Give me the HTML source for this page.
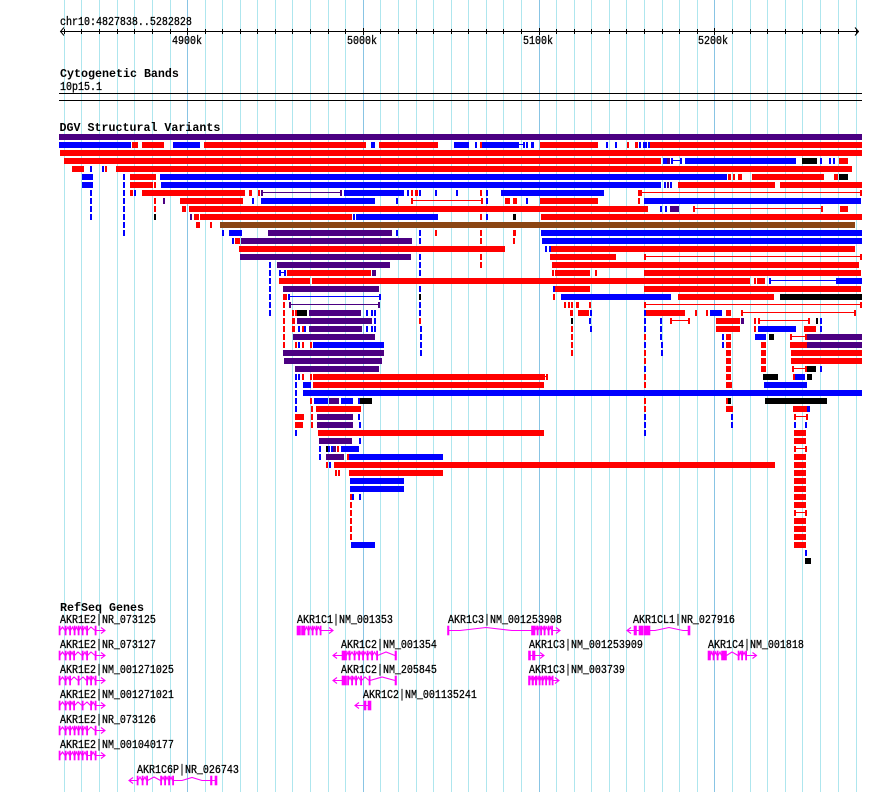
<!DOCTYPE html>
<html><head><meta charset="utf-8"><style>
html,body{margin:0;padding:0;background:#fff;}
svg{display:block}
.r{fill:#f00}.b{fill:#00f}.p{fill:#4b0082}.k{fill:#000}.n{fill:#8b4513}
.t{font-family:"Liberation Mono",monospace;font-size:10px;fill:#000;stroke:#000;stroke-width:0.25}
.h{font-family:"Liberation Mono",monospace;font-size:11.67px;font-weight:bold;fill:#000}
.g{fill:#f0f;stroke:#f0f;stroke-width:0.6}
.gs{fill:none;stroke:#f0f;stroke-width:1.1}
</style></head><body>
<svg width="890" height="792" viewBox="0 0 890 792" shape-rendering="crispEdges">
<rect width="890" height="792" fill="#fff"/>
<g fill="#aee6ee">
<rect x="64" y="0" width="1" height="792"/><rect x="81" y="0" width="1" height="792"/><rect x="99" y="0" width="1" height="792"/><rect x="117" y="0" width="1" height="792"/><rect x="134" y="0" width="1" height="792"/><rect x="152" y="0" width="1" height="792"/><rect x="170" y="0" width="1" height="792"/>
<rect x="205" y="0" width="1" height="792"/><rect x="222" y="0" width="1" height="792"/><rect x="240" y="0" width="1" height="792"/><rect x="257" y="0" width="1" height="792"/><rect x="275" y="0" width="1" height="792"/><rect x="292" y="0" width="1" height="792"/><rect x="310" y="0" width="1" height="792"/><rect x="328" y="0" width="1" height="792"/><rect x="345" y="0" width="1" height="792"/>
<rect x="380" y="0" width="1" height="792"/><rect x="398" y="0" width="1" height="792"/><rect x="416" y="0" width="1" height="792"/><rect x="433" y="0" width="1" height="792"/><rect x="451" y="0" width="1" height="792"/><rect x="468" y="0" width="1" height="792"/><rect x="486" y="0" width="1" height="792"/><rect x="503" y="0" width="1" height="792"/><rect x="521" y="0" width="1" height="792"/>
<rect x="556" y="0" width="1" height="792"/><rect x="574" y="0" width="1" height="792"/><rect x="591" y="0" width="1" height="792"/><rect x="609" y="0" width="1" height="792"/><rect x="626" y="0" width="1" height="792"/><rect x="644" y="0" width="1" height="792"/><rect x="662" y="0" width="1" height="792"/><rect x="679" y="0" width="1" height="792"/><rect x="697" y="0" width="1" height="792"/>
<rect x="732" y="0" width="1" height="792"/><rect x="750" y="0" width="1" height="792"/><rect x="767" y="0" width="1" height="792"/><rect x="785" y="0" width="1" height="792"/><rect x="802" y="0" width="1" height="792"/><rect x="820" y="0" width="1" height="792"/><rect x="838" y="0" width="1" height="792"/><rect x="856" y="0" width="1" height="792"/>
</g>
<g fill="#88c4e4">
<rect x="187" y="0" width="1" height="792"/><rect x="363" y="0" width="1" height="792"/><rect x="539" y="0" width="1" height="792"/><rect x="714" y="0" width="1" height="792"/>
</g>
<!-- ruler -->
<rect x="60" y="31" width="799" height="1" fill="#000"/>
<g fill="#000">
<rect x="64" y="29" width="1" height="5"/><rect x="81" y="29" width="1" height="5"/><rect x="99" y="29" width="1" height="5"/><rect x="117" y="29" width="1" height="5"/><rect x="134" y="29" width="1" height="5"/><rect x="152" y="29" width="1" height="5"/><rect x="170" y="29" width="1" height="5"/><rect x="187" y="28" width="1" height="7"/>
<rect x="205" y="29" width="1" height="5"/><rect x="222" y="29" width="1" height="5"/><rect x="240" y="29" width="1" height="5"/><rect x="257" y="29" width="1" height="5"/><rect x="275" y="29" width="1" height="5"/><rect x="292" y="29" width="1" height="5"/><rect x="310" y="29" width="1" height="5"/><rect x="328" y="29" width="1" height="5"/><rect x="345" y="29" width="1" height="5"/><rect x="363" y="28" width="1" height="7"/>
<rect x="380" y="29" width="1" height="5"/><rect x="398" y="29" width="1" height="5"/><rect x="416" y="29" width="1" height="5"/><rect x="433" y="29" width="1" height="5"/><rect x="451" y="29" width="1" height="5"/><rect x="468" y="29" width="1" height="5"/><rect x="486" y="29" width="1" height="5"/><rect x="503" y="29" width="1" height="5"/><rect x="521" y="29" width="1" height="5"/><rect x="539" y="28" width="1" height="7"/>
<rect x="556" y="29" width="1" height="5"/><rect x="574" y="29" width="1" height="5"/><rect x="591" y="29" width="1" height="5"/><rect x="609" y="29" width="1" height="5"/><rect x="626" y="29" width="1" height="5"/><rect x="644" y="29" width="1" height="5"/><rect x="662" y="29" width="1" height="5"/><rect x="679" y="29" width="1" height="5"/><rect x="697" y="29" width="1" height="5"/><rect x="714" y="28" width="1" height="7"/>
<rect x="732" y="29" width="1" height="5"/><rect x="750" y="29" width="1" height="5"/><rect x="767" y="29" width="1" height="5"/><rect x="785" y="29" width="1" height="5"/><rect x="802" y="29" width="1" height="5"/><rect x="820" y="29" width="1" height="5"/><rect x="838" y="29" width="1" height="5"/><rect x="856" y="29" width="1" height="5"/>
</g>
<polyline points="64,27.5 60.5,31.5 64,35.5" fill="none" stroke="#000" stroke-width="1" shape-rendering="auto"/>
<polyline points="855,27.5 858.5,31.5 855,35.5" fill="none" stroke="#000" stroke-width="1" shape-rendering="auto"/>
<text class="t" transform="translate(60,25) scale(1,1.2)">chr10:4827838..5282828</text>
<text class="t" text-anchor="middle" transform="translate(187,44) scale(1,1.2)">4900k</text>
<text class="t" text-anchor="middle" transform="translate(362,44) scale(1,1.2)">5000k</text>
<text class="t" text-anchor="middle" transform="translate(538,44) scale(1,1.2)">5100k</text>
<text class="t" text-anchor="middle" transform="translate(713,44) scale(1,1.2)">5200k</text>
<!-- cytobands -->
<text class="h" x="60" y="77">Cytogenetic Bands</text>
<text class="t" transform="translate(60,90) scale(1,1.2)">10p15.1</text>
<rect x="59" y="93" width="803" height="1" fill="#000"/>
<rect x="59" y="100" width="803" height="1" fill="#000"/>
<!-- DGV -->
<text class="h" x="59.5" y="131">DGV Structural Variants</text>
<g transform="translate(0,134)"><rect class="p" x="59" width="803" height="6"/></g>
<g transform="translate(0,142)"><rect class="b" x="59" width="72" height="6"/><rect class="r" x="132" width="6" height="6"/><rect class="r" x="142" width="22" height="6"/><rect class="b" x="173" width="27" height="6"/><rect class="r" x="204" width="162" height="6"/><rect class="b" x="371" width="4" height="6"/><rect class="r" x="379" width="59" height="6"/><rect class="b" x="454" width="15" height="6"/><rect class="b" x="475" width="2" height="6"/><rect class="r" x="480" width="2" height="6"/><rect class="b" x="482" width="37" height="6"/><rect class="b" x="519" y="2" width="4" height="1"/><rect class="b" x="523" width="2" height="6"/><rect class="b" x="526" width="2" height="6"/><rect class="b" x="531" width="3" height="6"/><rect class="r" x="540" width="58" height="6"/><rect class="b" x="606" width="2" height="6"/><rect class="b" x="615" width="2" height="6"/><rect class="r" x="627" width="2" height="6"/><rect class="r" x="635" width="3" height="6"/><rect class="b" x="639" width="2" height="6"/><rect class="b" x="643" width="4" height="6"/><rect class="b" x="648" width="2" height="6"/><rect class="r" x="650" width="212" height="6"/></g>
<g transform="translate(0,150)"><rect class="r" x="60" width="802" height="6"/></g>
<g transform="translate(0,158)"><rect class="r" x="64" width="597" height="6"/><rect class="b" x="663" width="4" height="6"/><rect class="p" x="667" width="3" height="6"/><rect class="b" x="671" width="2" height="6"/><rect class="b" x="673" y="2" width="7" height="1"/><rect class="b" x="680" width="2" height="6"/><rect class="b" x="685" width="111" height="6"/><rect class="k" x="802" width="15" height="6"/><rect class="b" x="820" width="2" height="6"/><rect class="b" x="829" width="2" height="6"/><rect class="b" x="833" width="2" height="6"/><rect class="r" x="839" width="9" height="6"/></g>
<g transform="translate(0,166)"><rect class="r" x="72" width="12" height="6"/><rect class="b" x="90" width="2" height="6"/><rect class="b" x="102" width="2" height="6"/><rect class="r" x="105" width="2" height="6"/><rect class="r" x="116" width="736" height="6"/></g>
<g transform="translate(0,174)"><rect class="b" x="82" width="11" height="6"/><rect class="b" x="123" width="2" height="6"/><rect class="r" x="130" width="26" height="6"/><rect class="b" x="160" width="567" height="6"/><rect class="r" x="728" width="3" height="6"/><rect class="r" x="733" width="2" height="6"/><rect class="r" x="738" width="4" height="6"/><rect class="r" x="752" width="72" height="6"/><rect class="r" x="834" width="4" height="6"/><rect class="k" x="839" width="9" height="6"/></g>
<g transform="translate(0,182)"><rect class="b" x="82" width="11" height="6"/><rect class="b" x="123" width="2" height="6"/><rect class="r" x="130" width="23" height="6"/><rect class="r" x="154" width="2" height="6"/><rect class="b" x="161" width="500" height="6"/><rect class="b" x="664" width="2" height="6"/><rect class="p" x="667" width="2" height="6"/><rect class="b" x="670" width="2" height="6"/><rect class="r" x="678" width="97" height="6"/><rect class="r" x="780" width="82" height="6"/></g>
<g transform="translate(0,190)"><rect class="b" x="90" width="2" height="6"/><rect class="b" x="123" width="2" height="6"/><rect class="r" x="130" width="3" height="6"/><rect class="b" x="134" width="2" height="6"/><rect class="r" x="142" width="103" height="6"/><rect class="r" x="249" width="3" height="6"/><rect class="r" x="258" width="2" height="6"/><rect class="p" x="261" width="2" height="6"/><rect class="p" x="263" y="2" width="77" height="1"/><rect class="p" x="340" width="2" height="6"/><rect class="b" x="344" width="60" height="6"/><rect class="b" x="407" width="2" height="6"/><rect class="r" x="411" width="2" height="6"/><rect class="r" x="415" width="3" height="6"/><rect class="b" x="419" width="2" height="6"/><rect class="b" x="435" width="2" height="6"/><rect class="b" x="456" width="2" height="6"/><rect class="r" x="480" width="2" height="6"/><rect class="b" x="486" width="2" height="6"/><rect class="b" x="501" width="103" height="6"/><rect class="r" x="638" width="4" height="6"/><rect class="r" x="642" y="2" width="218" height="1"/><rect class="r" x="860" width="2" height="6"/></g>
<g transform="translate(0,198)"><rect class="b" x="90" width="2" height="6"/><rect class="b" x="123" width="2" height="6"/><rect class="r" x="154" width="2" height="6"/><rect class="p" x="163" width="2" height="6"/><rect class="r" x="180" width="63" height="6"/><rect class="b" x="252" width="2" height="6"/><rect class="b" x="261" width="114" height="6"/><rect class="b" x="396" width="2" height="6"/><rect class="r" x="411" width="2" height="6"/><rect class="r" x="413" y="2" width="68" height="1"/><rect class="r" x="481" width="2" height="6"/><rect class="b" x="486" width="2" height="6"/><rect class="r" x="505" width="5" height="6"/><rect class="r" x="513" width="4" height="6"/><rect class="b" x="526" width="2" height="6"/><rect class="r" x="540" width="58" height="6"/><rect class="r" x="638" width="2" height="6"/><rect class="b" x="644" width="217" height="6"/></g>
<g transform="translate(0,206)"><rect class="b" x="90" width="2" height="6"/><rect class="b" x="123" width="2" height="6"/><rect class="r" x="154" width="2" height="6"/><rect class="r" x="182" width="4" height="6"/><rect class="r" x="189" width="459" height="6"/><rect class="b" x="660" width="2" height="6"/><rect class="b" x="665" width="2" height="6"/><rect class="p" x="670" width="9" height="6"/><rect class="r" x="693" width="2" height="6"/><rect class="r" x="695" y="2" width="126" height="1"/><rect class="r" x="821" width="2" height="6"/><rect class="r" x="840" width="8" height="6"/></g>
<g transform="translate(0,214)"><rect class="b" x="90" width="2" height="6"/><rect class="b" x="123" width="2" height="6"/><rect class="k" x="154" width="2" height="6"/><rect class="p" x="190" width="2" height="6"/><rect class="r" x="194" width="5" height="6"/><rect class="r" x="200" width="152" height="6"/><rect class="b" x="353" width="2" height="6"/><rect class="b" x="356" width="82" height="6"/><rect class="r" x="480" width="2" height="6"/><rect class="b" x="486" width="2" height="6"/><rect class="k" x="513" width="3" height="6"/><rect class="r" x="541" width="321" height="6"/></g>
<g transform="translate(0,222)"><rect class="b" x="123" width="2" height="6"/><rect class="r" x="196" width="4" height="6"/><rect class="r" x="210" width="2" height="6"/><rect class="n" x="220" width="635" height="6"/></g>
<g transform="translate(0,230)"><rect class="b" x="123" width="2" height="6"/><rect class="b" x="222" width="2" height="6"/><rect class="b" x="229" width="13" height="6"/><rect class="p" x="268" width="124" height="6"/><rect class="b" x="396" width="2" height="6"/><rect class="b" x="419" width="2" height="6"/><rect class="r" x="435" width="2" height="6"/><rect class="r" x="480" width="2" height="6"/><rect class="r" x="513" width="3" height="6"/><rect class="b" x="541" width="321" height="6"/></g>
<g transform="translate(0,238)"><rect class="b" x="232" width="2" height="6"/><rect class="r" x="235" width="5" height="6"/><rect class="p" x="241" width="171" height="6"/><rect class="b" x="419" width="2" height="6"/><rect class="r" x="480" width="2" height="6"/><rect class="r" x="513" width="2" height="6"/><rect class="b" x="542" width="320" height="6"/></g>
<g transform="translate(0,246)"><rect class="r" x="239" width="266" height="6"/><rect class="b" x="545" width="2" height="6"/><rect class="b" x="549" width="2" height="6"/><rect class="r" x="551" width="304" height="6"/></g>
<g transform="translate(0,254)"><rect class="p" x="240" width="171" height="6"/><rect class="b" x="419" width="2" height="6"/><rect class="r" x="480" width="2" height="6"/><rect class="r" x="550" width="66" height="6"/><rect class="r" x="644" width="2" height="6"/><rect class="r" x="646" y="2" width="214" height="1"/><rect class="r" x="860" width="2" height="6"/></g>
<g transform="translate(0,262)"><rect class="b" x="269" width="2" height="6"/><rect class="p" x="277" width="113" height="6"/><rect class="b" x="419" width="2" height="6"/><rect class="r" x="480" width="2" height="6"/><rect class="r" x="552" width="307" height="6"/></g>
<g transform="translate(0,270)"><rect class="b" x="269" width="2" height="6"/><rect class="b" x="279" width="2" height="6"/><rect class="b" x="281" y="2" width="3" height="1"/><rect class="b" x="284" width="2" height="6"/><rect class="r" x="287" width="84" height="6"/><rect class="p" x="372" width="4" height="6"/><rect class="b" x="419" width="2" height="6"/><rect class="r" x="552" width="2" height="6"/><rect class="r" x="555" width="35" height="6"/><rect class="r" x="595" width="2" height="6"/><rect class="r" x="644" width="217" height="6"/></g>
<g transform="translate(0,278)"><rect class="b" x="269" width="2" height="6"/><rect class="r" x="279" width="31" height="6"/><rect class="r" x="312" width="438" height="6"/><rect class="r" x="754" width="2" height="6"/><rect class="r" x="757" width="8" height="6"/><rect class="b" x="769" width="2" height="6"/><rect class="b" x="771" y="2" width="65" height="1"/><rect class="b" x="836" width="26" height="6"/></g>
<g transform="translate(0,286)"><rect class="b" x="269" width="2" height="6"/><rect class="p" x="283" width="96" height="6"/><rect class="b" x="419" width="2" height="6"/><rect class="b" x="553" width="2" height="6"/><rect class="r" x="555" width="35" height="6"/><rect class="r" x="644" width="217" height="6"/></g>
<g transform="translate(0,294)"><rect class="b" x="269" width="2" height="6"/><rect class="r" x="283" width="4" height="6"/><rect class="b" x="288" width="2" height="6"/><rect class="b" x="290" y="2" width="89" height="1"/><rect class="b" x="379" width="2" height="6"/><rect class="k" x="419" width="2" height="6"/><rect class="r" x="553" width="2" height="6"/><rect class="b" x="561" width="110" height="6"/><rect class="r" x="678" width="96" height="6"/><rect class="k" x="780" width="82" height="6"/></g>
<g transform="translate(0,302)"><rect class="b" x="269" width="2" height="6"/><rect class="r" x="283" width="2" height="6"/><rect class="p" x="289" width="2" height="6"/><rect class="p" x="291" y="2" width="87" height="1"/><rect class="p" x="378" width="2" height="6"/><rect class="b" x="419" width="2" height="6"/><rect class="r" x="564" width="2" height="6"/><rect class="r" x="568" width="2" height="6"/><rect class="r" x="571" width="2" height="6"/><rect class="r" x="576" width="3" height="6"/><rect class="r" x="589" width="2" height="6"/><rect class="r" x="644" width="2" height="6"/><rect class="r" x="646" y="2" width="214" height="1"/><rect class="r" x="860" width="2" height="6"/></g>
<g transform="translate(0,310)"><rect class="b" x="269" width="2" height="6"/><rect class="r" x="283" width="2" height="6"/><rect class="r" x="292" width="2" height="6"/><rect class="r" x="295" width="2" height="6"/><rect class="k" x="297" width="10" height="6"/><rect class="p" x="309" width="52" height="6"/><rect class="b" x="366" width="2" height="6"/><rect class="b" x="371" width="2" height="6"/><rect class="b" x="374" width="2" height="6"/><rect class="b" x="419" width="2" height="6"/><rect class="r" x="570" width="3" height="6"/><rect class="r" x="578" width="11" height="6"/><rect class="b" x="590" width="2" height="6"/><rect class="b" x="644" width="2" height="6"/><rect class="r" x="646" width="39" height="6"/><rect class="r" x="695" width="2" height="6"/><rect class="r" x="706" width="2" height="6"/><rect class="b" x="710" width="12" height="6"/><rect class="r" x="726" width="5" height="6"/><rect class="r" x="741" width="2" height="6"/><rect class="r" x="743" y="2" width="111" height="1"/><rect class="r" x="854" width="2" height="6"/></g>
<g transform="translate(0,318)"><rect class="r" x="283" width="2" height="6"/><rect class="r" x="292" width="3" height="6"/><rect class="p" x="297" width="75" height="6"/><rect class="b" x="374" width="2" height="6"/><rect class="r" x="419" width="2" height="6"/><rect class="k" x="571" width="2" height="6"/><rect class="b" x="589" width="2" height="6"/><rect class="b" x="644" width="2" height="6"/><rect class="b" x="660" width="2" height="6"/><rect class="r" x="670" width="2" height="6"/><rect class="r" x="672" y="2" width="16" height="1"/><rect class="r" x="688" width="2" height="6"/><rect class="r" x="716" width="24" height="6"/><rect class="p" x="741" width="3" height="6"/><rect class="r" x="754" width="2" height="6"/><rect class="r" x="758" width="2" height="6"/><rect class="r" x="760" y="2" width="48" height="1"/><rect class="r" x="808" width="2" height="6"/><rect class="k" x="816" width="2" height="6"/><rect class="b" x="820" width="2" height="6"/></g>
<g transform="translate(0,326)"><rect class="r" x="283" width="2" height="6"/><rect class="r" x="292" width="3" height="6"/><rect class="b" x="298" width="2" height="6"/><rect class="r" x="302" width="2" height="6"/><rect class="b" x="304" width="2" height="6"/><rect class="p" x="309" width="53" height="6"/><rect class="b" x="366" width="2" height="6"/><rect class="b" x="371" width="2" height="6"/><rect class="b" x="374" width="2" height="6"/><rect class="b" x="420" width="2" height="6"/><rect class="r" x="571" width="2" height="6"/><rect class="b" x="590" width="2" height="6"/><rect class="b" x="644" width="2" height="6"/><rect class="b" x="660" width="2" height="6"/><rect class="r" x="716" width="24" height="6"/><rect class="r" x="754" width="2" height="6"/><rect class="b" x="758" width="38" height="6"/><rect class="r" x="804" width="12" height="6"/><rect class="b" x="820" width="2" height="6"/></g>
<g transform="translate(0,334)"><rect class="r" x="283" width="2" height="6"/><rect class="p" x="293" width="82" height="6"/><rect class="b" x="420" width="2" height="6"/><rect class="r" x="571" width="2" height="6"/><rect class="r" x="644" width="2" height="6"/><rect class="b" x="660" width="2" height="6"/><rect class="b" x="722" width="2" height="6"/><rect class="r" x="726" width="5" height="6"/><rect class="b" x="755" width="11" height="6"/><rect class="k" x="769" width="5" height="6"/><rect class="r" x="790" width="2" height="6"/><rect class="r" x="792" y="2" width="13" height="1"/><rect class="r" x="805" width="2" height="6"/><rect class="p" x="807" width="55" height="6"/></g>
<g transform="translate(0,342)"><rect class="r" x="283" width="2" height="6"/><rect class="r" x="295" width="2" height="6"/><rect class="b" x="298" width="2" height="6"/><rect class="r" x="302" width="2" height="6"/><rect class="r" x="310" width="2" height="6"/><rect class="b" x="313" width="71" height="6"/><rect class="b" x="420" width="2" height="6"/><rect class="r" x="571" width="2" height="6"/><rect class="b" x="644" width="2" height="6"/><rect class="b" x="661" width="2" height="6"/><rect class="b" x="722" width="2" height="6"/><rect class="r" x="726" width="5" height="6"/><rect class="r" x="761" width="5" height="6"/><rect class="r" x="790" width="17" height="6"/><rect class="p" x="807" width="55" height="6"/></g>
<g transform="translate(0,350)"><rect class="p" x="283" width="101" height="6"/><rect class="b" x="420" width="2" height="6"/><rect class="r" x="571" width="2" height="6"/><rect class="r" x="644" width="2" height="6"/><rect class="b" x="661" width="2" height="6"/><rect class="r" x="726" width="5" height="6"/><rect class="r" x="761" width="5" height="6"/><rect class="r" x="791" width="71" height="6"/></g>
<g transform="translate(0,358)"><rect class="p" x="284" width="98" height="6"/><rect class="r" x="644" width="2" height="6"/><rect class="r" x="726" width="5" height="6"/><rect class="r" x="761" width="5" height="6"/><rect class="r" x="791" width="71" height="6"/></g>
<g transform="translate(0,366)"><rect class="p" x="295" width="84" height="6"/><rect class="b" x="644" width="2" height="6"/><rect class="r" x="726" width="5" height="6"/><rect class="r" x="761" width="5" height="6"/><rect class="r" x="792" width="2" height="6"/><rect class="r" x="794" y="2" width="11" height="1"/><rect class="r" x="805" width="2" height="6"/><rect class="k" x="807" width="9" height="6"/><rect class="b" x="820" width="2" height="6"/></g>
<g transform="translate(0,374)"><rect class="b" x="295" width="2" height="6"/><rect class="b" x="298" width="2" height="6"/><rect class="r" x="302" width="2" height="6"/><rect class="r" x="310" width="2" height="6"/><rect class="r" x="313" width="232" height="6"/><rect class="r" x="545" y="2" width="1" height="1"/><rect class="r" x="546" width="2" height="6"/><rect class="r" x="644" width="2" height="6"/><rect class="r" x="726" width="5" height="6"/><rect class="k" x="763" width="15" height="6"/><rect class="r" x="793" width="2" height="6"/><rect class="b" x="795" width="10" height="6"/><rect class="k" x="807" width="5" height="6"/></g>
<g transform="translate(0,382)"><rect class="b" x="295" width="2" height="6"/><rect class="b" x="303" width="8" height="6"/><rect class="r" x="313" width="231" height="6"/><rect class="r" x="644" width="2" height="6"/><rect class="r" x="726" width="6" height="6"/><rect class="b" x="764" width="43" height="6"/></g>
<g transform="translate(0,390)"><rect class="b" x="295" width="2" height="6"/><rect class="b" x="303" width="559" height="6"/></g>
<g transform="translate(0,398)"><rect class="b" x="295" width="2" height="6"/><rect class="r" x="310" width="2" height="6"/><rect class="b" x="314" width="14" height="6"/><rect class="p" x="329" width="10" height="6"/><rect class="b" x="341" width="12" height="6"/><rect class="b" x="358" width="2" height="6"/><rect class="k" x="360" width="12" height="6"/><rect class="r" x="644" width="2" height="6"/><rect class="r" x="726" width="2" height="6"/><rect class="k" x="728" width="3" height="6"/><rect class="k" x="765" width="62" height="6"/></g>
<g transform="translate(0,406)"><rect class="b" x="295" width="2" height="6"/><rect class="r" x="311" width="2" height="6"/><rect class="r" x="316" width="45" height="6"/><rect class="r" x="644" width="2" height="6"/><rect class="r" x="726" width="7" height="6"/><rect class="r" x="793" width="14" height="6"/><rect class="b" x="807" width="3" height="6"/></g>
<g transform="translate(0,414)"><rect class="r" x="295" width="9" height="6"/><rect class="r" x="311" width="2" height="6"/><rect class="p" x="317" width="36" height="6"/><rect class="b" x="358" width="2" height="6"/><rect class="b" x="644" width="2" height="6"/><rect class="b" x="731" width="2" height="6"/><rect class="r" x="794" width="2" height="6"/><rect class="r" x="796" y="2" width="10" height="1"/><rect class="r" x="806" width="2" height="6"/></g>
<g transform="translate(0,422)"><rect class="r" x="295" width="8" height="6"/><rect class="r" x="311" width="2" height="6"/><rect class="p" x="317" width="36" height="6"/><rect class="b" x="359" width="2" height="6"/><rect class="b" x="644" width="2" height="6"/><rect class="b" x="731" width="2" height="6"/><rect class="b" x="794" width="2" height="6"/><rect class="b" x="805" width="2" height="6"/></g>
<g transform="translate(0,430)"><rect class="b" x="295" width="2" height="6"/><rect class="r" x="318" width="226" height="6"/><rect class="b" x="644" width="2" height="6"/><rect class="r" x="794" width="12" height="6"/></g>
<g transform="translate(0,438)"><rect class="p" x="319" width="33" height="6"/><rect class="b" x="359" width="2" height="6"/><rect class="r" x="794" width="12" height="6"/></g>
<g transform="translate(0,446)"><rect class="b" x="319" width="2" height="6"/><rect class="k" x="326" width="2" height="6"/><rect class="b" x="328" width="2" height="6"/><rect class="b" x="331" width="2" height="6"/><rect class="p" x="333" width="3" height="6"/><rect class="r" x="337" width="2" height="6"/><rect class="b" x="341" width="18" height="6"/><rect class="r" x="794" width="2" height="6"/><rect class="r" x="796" y="2" width="9" height="1"/><rect class="r" x="805" width="2" height="6"/></g>
<g transform="translate(0,454)"><rect class="b" x="319" width="2" height="6"/><rect class="p" x="326" width="18" height="6"/><rect class="r" x="347" width="2" height="6"/><rect class="b" x="349" width="94" height="6"/><rect class="r" x="794" width="12" height="6"/></g>
<g transform="translate(0,462)"><rect class="r" x="326" width="2" height="6"/><rect class="b" x="329" width="2" height="6"/><rect class="r" x="334" width="441" height="6"/><rect class="r" x="794" width="12" height="6"/></g>
<g transform="translate(0,470)"><rect class="r" x="335" width="2" height="6"/><rect class="r" x="338" width="2" height="6"/><rect class="r" x="349" width="94" height="6"/><rect class="r" x="794" width="12" height="6"/></g>
<g transform="translate(0,478)"><rect class="b" x="350" width="54" height="6"/><rect class="r" x="794" width="12" height="6"/></g>
<g transform="translate(0,486)"><rect class="b" x="350" width="54" height="6"/><rect class="r" x="794" width="12" height="6"/></g>
<g transform="translate(0,494)"><rect class="r" x="350" width="2" height="6"/><rect class="b" x="352" width="2" height="6"/><rect class="b" x="359" width="2" height="6"/><rect class="r" x="794" width="12" height="6"/></g>
<g transform="translate(0,502)"><rect class="r" x="350" width="2" height="6"/><rect class="r" x="794" width="12" height="6"/></g>
<g transform="translate(0,510)"><rect class="r" x="350" width="2" height="6"/><rect class="r" x="794" width="2" height="6"/><rect class="r" x="796" y="2" width="9" height="1"/><rect class="r" x="805" width="2" height="6"/></g>
<g transform="translate(0,518)"><rect class="r" x="350" width="2" height="6"/><rect class="r" x="794" width="12" height="6"/></g>
<g transform="translate(0,526)"><rect class="r" x="350" width="2" height="6"/><rect class="r" x="794" width="12" height="6"/></g>
<g transform="translate(0,534)"><rect class="r" x="350" width="2" height="6"/><rect class="r" x="794" width="12" height="6"/></g>
<g transform="translate(0,542)"><rect class="b" x="351" width="24" height="6"/><rect class="r" x="794" width="12" height="6"/></g>
<g transform="translate(0,550)"><rect class="b" x="805" width="2" height="6"/></g>
<g transform="translate(0,558)"><rect class="k" x="805" width="6" height="6"/></g>

<!-- RefSeq Genes -->
<text class="h" x="60" y="611">RefSeq Genes</text>
<text class="t" transform="translate(60,623) scale(1,1.2)">AKR1E2|NR_073125</text>
<text class="t" transform="translate(60,648) scale(1,1.2)">AKR1E2|NR_073127</text>
<text class="t" transform="translate(60,673) scale(1,1.2)">AKR1E2|NM_001271025</text>
<text class="t" transform="translate(60,698) scale(1,1.2)">AKR1E2|NM_001271021</text>
<text class="t" transform="translate(60,723) scale(1,1.2)">AKR1E2|NR_073126</text>
<text class="t" transform="translate(60,748) scale(1,1.2)">AKR1E2|NM_001040177</text>
<text class="t" transform="translate(137,773) scale(1,1.2)">AKR1C6P|NR_026743</text>
<text class="t" transform="translate(297,623) scale(1,1.2)">AKR1C1|NM_001353</text>
<text class="t" transform="translate(341,648) scale(1,1.2)">AKR1C2|NM_001354</text>
<text class="t" transform="translate(341,673) scale(1,1.2)">AKR1C2|NM_205845</text>
<text class="t" transform="translate(363,698) scale(1,1.2)">AKR1C2|NM_001135241</text>
<text class="t" transform="translate(448,623) scale(1,1.2)">AKR1C3|NM_001253908</text>
<text class="t" transform="translate(529,648) scale(1,1.2)">AKR1C3|NM_001253909</text>
<text class="t" transform="translate(529,673) scale(1,1.2)">AKR1C3|NM_003739</text>
<text class="t" transform="translate(633,623) scale(1,1.2)">AKR1CL1|NR_027916</text>
<text class="t" transform="translate(708,648) scale(1,1.2)">AKR1C4|NM_001818</text>

<g shape-rendering="auto">
<g transform="translate(0,626)">
<g class="g"><rect x="59" y="0" width="1.2" height="9"/><rect x="65" y="0" width="1.2" height="9"/><rect x="69.5" y="0" width="1.2" height="9"/><rect x="74" y="0" width="1.2" height="9"/><rect x="78" y="0" width="1.2" height="9"/><rect x="82" y="0" width="1.2" height="9"/><rect x="86.5" y="0" width="1.2" height="9"/><rect x="95" y="0" width="1.2" height="9"/></g>
<path class="gs" d="M60 4.5L62.5 1L65 4.5M66 4.5L68 1L69.5 4.5M70.5 4.5L72.5 1L74 4.5M75 4.5L76.5 1L78 4.5M79 4.5L80.5 1L82 4.5M83 4.5L85 1L86.5 4.5M87.5 4.5L91 1L95 4.5M96 4.5H105M101 1.5L105 4.5L101 7.5"/>
</g>
<g transform="translate(0,651)">
<g class="g"><rect x="59" y="0" width="1.2" height="9"/><rect x="65" y="0" width="1.2" height="9"/><rect x="69.5" y="0" width="1.2" height="9"/><rect x="73.5" y="0" width="1.2" height="9"/><rect x="82" y="0" width="1.2" height="9"/><rect x="86.5" y="0" width="1.2" height="9"/><rect x="95" y="0" width="1.2" height="9"/></g>
<path class="gs" d="M60 4.5L62.5 1L65 4.5M66 4.5L68 1L69.5 4.5M70.5 4.5L72 1L73.5 4.5M74.5 4.5L78 1L82 4.5M83 4.5L85 1L86.5 4.5M87.5 4.5L91 1L95 4.5M96 4.5H105M101 1.5L105 4.5L101 7.5"/>
</g>
<g transform="translate(0,676)">
<g class="g"><rect x="59" y="0" width="1.2" height="9"/><rect x="65" y="0" width="1.2" height="9"/><rect x="69.5" y="0" width="1.2" height="9"/><rect x="78" y="0" width="1.2" height="9"/><rect x="86.5" y="0" width="1.2" height="9"/><rect x="90.5" y="0" width="1.2" height="9"/><rect x="95" y="0" width="1.2" height="9"/></g>
<path class="gs" d="M60 4.5L62.5 1L65 4.5M66 4.5L68 1L69.5 4.5M70.5 4.5L74 1L78 4.5M79 4.5L83 1L86.5 4.5M87.5 4.5L89 1L90.5 4.5M91.5 4.5L93 1L95 4.5M96 4.5H105M101 1.5L105 4.5L101 7.5"/>
</g>
<g transform="translate(0,701)">
<g class="g"><rect x="59" y="0" width="1.2" height="9"/><rect x="65" y="0" width="1.2" height="9"/><rect x="69.5" y="0" width="1.2" height="9"/><rect x="73.5" y="0" width="1.2" height="9"/><rect x="82" y="0" width="1.2" height="9"/><rect x="90.5" y="0" width="1.2" height="9"/><rect x="95" y="0" width="1.2" height="9"/></g>
<path class="gs" d="M60 4.5L62.5 1L65 4.5M66 4.5L68 1L69.5 4.5M70.5 4.5L72 1L73.5 4.5M74.5 4.5L78 1L82 4.5M83 4.5L87 1L90.5 4.5M91.5 4.5L93 1L95 4.5M96 4.5H105M101 1.5L105 4.5L101 7.5"/>
</g>
<g transform="translate(0,726)">
<g class="g"><rect x="59" y="0" width="1.2" height="9"/><rect x="65" y="0" width="1.2" height="9"/><rect x="69.5" y="0" width="1.2" height="9"/><rect x="74" y="0" width="1.2" height="9"/><rect x="78" y="0" width="1.2" height="9"/><rect x="82" y="0" width="1.2" height="9"/><rect x="86.5" y="0" width="1.2" height="9"/><rect x="95" y="0" width="1.2" height="9"/></g>
<path class="gs" d="M60 4.5L62.5 1L65 4.5M66 4.5L68 1L69.5 4.5M70.5 4.5L72.5 1L74 4.5M75 4.5L76.5 1L78 4.5M79 4.5L80.5 1L82 4.5M83 4.5L85 1L86.5 4.5M87.5 4.5L91 1L95 4.5M96 4.5H105M101 1.5L105 4.5L101 7.5"/>
</g>
<g transform="translate(0,751)">
<g class="g"><rect x="59" y="0" width="1.2" height="9"/><rect x="65" y="0" width="1.2" height="9"/><rect x="69.5" y="0" width="1.2" height="9"/><rect x="74" y="0" width="1.2" height="9"/><rect x="78" y="0" width="1.2" height="9"/><rect x="82" y="0" width="1.2" height="9"/><rect x="86.5" y="0" width="1.2" height="9"/><rect x="90.5" y="0" width="1.2" height="9"/><rect x="95" y="0" width="1.2" height="9"/></g>
<path class="gs" d="M60 4.5L62.5 1L65 4.5M66 4.5L68 1L69.5 4.5M70.5 4.5L72.5 1L74 4.5M75 4.5L76.5 1L78 4.5M79 4.5L80.5 1L82 4.5M83 4.5L85 1L86.5 4.5M87.5 4.5H90.5M91.5 4.5L93 1L95 4.5M96 4.5H105M101 1.5L105 4.5L101 7.5"/>
</g>
<g transform="translate(0,776)">
<g class="g"><rect x="137" y="0" width="1.2" height="9"/><rect x="142" y="0" width="1.2" height="9"/><rect x="146.5" y="0" width="1.2" height="9"/><rect x="160.5" y="0" width="1.2" height="9"/><rect x="164.5" y="0" width="1.2" height="9"/><rect x="168.5" y="0" width="1.2" height="9"/><rect x="172.5" y="0" width="1.2" height="9"/><rect x="210.5" y="0" width="1.5" height="9"/><rect x="215" y="0" width="2" height="9"/></g>
<path class="gs" d="M129 4.5H137M133 1.5L129 4.5L133 7.5M138 4.5L140 1L142 4.5M143 4.5L145 1L146.5 4.5M147.5 4.5L154 1L160.5 4.5M161.5 4.5L163 1L164.5 4.5M165.5 4.5L167 1L168.5 4.5M169.5 4.5L171 1L172.5 4.5M173.5 4.5H182L192 1.5L202 4.5H210.5M212 4.5H215"/>
</g>
<g transform="translate(0,626)">
<g class="g"><rect x="297" y="0" width="3.5" height="9"/><rect x="301.5" y="0" width="3.5" height="9"/><rect x="308" y="0" width="1.2" height="9"/><rect x="312" y="0" width="1.2" height="9"/><rect x="316" y="0" width="1.2" height="9"/><rect x="320" y="0" width="1.2" height="9"/></g>
<path class="gs" d="M305 4.5L306.5 1L308 4.5M309 4.5L310.5 1L312 4.5M313 4.5L314.5 1L316 4.5M317 4.5L318.5 1L320 4.5M321 4.5H333M329 1.5L333 4.5L329 7.5"/>
</g>
<g transform="translate(0,651)">
<g class="g"><rect x="342" y="0" width="4.5" height="9"/><rect x="349" y="0" width="1.2" height="9"/><rect x="354" y="0" width="1.2" height="9"/><rect x="358.5" y="0" width="1.2" height="9"/><rect x="362.5" y="0" width="1.2" height="9"/><rect x="367" y="0" width="1.2" height="9"/><rect x="371.5" y="0" width="1.2" height="9"/><rect x="376.5" y="0" width="1.2" height="9"/><rect x="395" y="0" width="1.5" height="9"/></g>
<path class="gs" d="M333 4.5H342M337 1.5L333 4.5L337 7.5M346.5 4.5L348 1L349 4.5M350 4.5L352 1L354 4.5M355 4.5L357 1L358.5 4.5M359.5 4.5L361 1L362.5 4.5M363.5 4.5L365 1L367 4.5M368 4.5L370 1L371.5 4.5M372.5 4.5L374.5 1L376.5 4.5M377.5 4.5L386 1L395 4.5"/>
</g>
<g transform="translate(0,676)">
<g class="g"><rect x="342" y="0" width="4.5" height="9"/><rect x="347.5" y="0" width="1.2" height="9"/><rect x="351.5" y="0" width="1.2" height="9"/><rect x="355.5" y="0" width="1.2" height="9"/><rect x="360.5" y="0" width="1.2" height="9"/><rect x="369" y="0" width="1.2" height="9"/><rect x="395" y="0" width="1.5" height="9"/></g>
<path class="gs" d="M333 4.5H342M337 1.5L333 4.5L337 7.5M348.5 4.5L350 1L351.5 4.5M352.5 4.5L354 1L355.5 4.5M356.5 4.5L358.5 1L360.5 4.5M361.5 4.5L365 1L369 4.5M370 4.5L382 1L395 4.5"/>
</g>
<g transform="translate(0,701)">
<g class="g"><rect x="364" y="0" width="2" height="9"/><rect x="368" y="0" width="3" height="9"/></g>
<path class="gs" d="M355 4.5H364M359 1.5L355 4.5L359 7.5M366 4.5H368"/>
</g>
<g transform="translate(0,626)">
<g class="g"><rect x="447.5" y="0" width="1.5" height="9"/><rect x="531.5" y="0" width="3.5" height="9"/><rect x="537" y="0" width="1.2" height="9"/><rect x="540.5" y="0" width="1.2" height="9"/><rect x="544" y="0" width="1.2" height="9"/><rect x="548" y="0" width="1.2" height="9"/><rect x="551.5" y="0" width="1.2" height="9"/></g>
<path class="gs" d="M449 4.5H460L486 1.5L512 4.5H531.5M535 4.5L536 1L537 4.5M538 4.5L539.5 1L540.5 4.5M541.5 4.5L543 1L544 4.5M545 4.5L546.5 1L548 4.5M549 4.5L550.5 1L551.5 4.5M552.5 4.5H560M556 1.5L560 4.5L556 7.5"/>
</g>
<g transform="translate(0,651)">
<g class="g"><rect x="528.5" y="0" width="2" height="9"/><rect x="532.5" y="0" width="2.5" height="9"/></g>
<path class="gs" d="M530.5 4.5H532.5M535 4.5H544M540 1.5L544 4.5L540 7.5"/>
</g>
<g transform="translate(0,676)">
<g class="g"><rect x="528.5" y="0" width="1.5" height="9"/><rect x="532" y="0" width="1.5" height="9"/><rect x="535.3" y="0" width="1.5" height="9"/><rect x="539" y="0" width="1.2" height="9"/><rect x="542" y="0" width="1.2" height="9"/><rect x="545.5" y="0" width="1.2" height="9"/><rect x="549" y="0" width="1.2" height="9"/><rect x="552" y="0" width="1.2" height="9"/></g>
<path class="gs" d="M530 4.5L531 1L532 4.5M533.5 4.5L534.5 1L535.3 4.5M536.8 4.5L538 1L539 4.5M540.2 4.5L541 1L542 4.5M543.2 4.5L544.5 1L545.5 4.5M546.7 4.5L548 1L549 4.5M550.2 4.5L551 1L552 4.5M553.2 4.5H559M555 1.5L559 4.5L555 7.5"/>
</g>
<g transform="translate(0,626)">
<g class="g"><rect x="634" y="0" width="2.5" height="9"/><rect x="639" y="0" width="4" height="9"/><rect x="644" y="0" width="6" height="9"/><rect x="688" y="0" width="2" height="9"/></g>
<path class="gs" d="M627 4.5H634M631 1.5L627 4.5L631 7.5M636.5 4.5H639M650 4.5H655L669 1.5L683 4.5H688"/>
</g>
<g transform="translate(0,651)">
<g class="g"><rect x="708" y="0" width="2.5" height="9"/><rect x="713" y="0" width="1.2" height="9"/><rect x="717" y="0" width="1.2" height="9"/><rect x="721.5" y="0" width="5" height="9"/><rect x="738" y="0" width="1.2" height="9"/><rect x="741.5" y="0" width="1.2" height="9"/><rect x="745.5" y="0" width="1.2" height="9"/></g>
<path class="gs" d="M710.5 4.5L711.5 1L713 4.5M714.2 4.5L715.5 1L717 4.5M718.2 4.5L720 1L721.5 4.5M726.5 4.5L732 1L738 4.5M739.2 4.5L740.5 1L741.5 4.5M742.7 4.5L744 1L745.5 4.5M746.7 4.5H756.5M752.5 1.5L756.5 4.5L752.5 7.5"/>
</g>
</g>
</svg>
</body></html>
